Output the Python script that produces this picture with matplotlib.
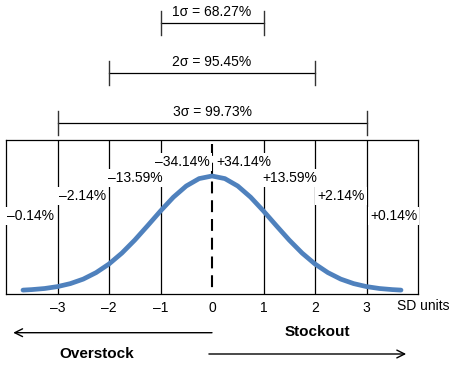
import matplotlib
matplotlib.use("Agg")
import matplotlib.pyplot as plt

plt.rcParams['font.family'] = ['Liberation Sans', 'DejaVu Sans']

# ---- data ----
curve_x = [-3.67, -3.5, -3.25, -3.0, -2.75, -2.5, -2.25, -2.0, -1.75, -1.5, -1.25, -1.0,
           -0.75, -0.5, -0.25, 0.0, 0.25, 0.5, 0.75, 1.0, 1.25, 1.5, 1.75, 2.0,
           2.25, 2.5, 2.75, 3.0, 3.25, 3.5, 3.67]
curve_y = [3.9, 4.4, 5.5, 7.4, 10.4, 14.9, 21.4, 30.0, 40.9, 53.9, 68.3, 83.0,
           96.8, 108.0, 115.4, 118.0, 115.4, 108.0, 96.8, 83.0, 68.3, 53.9, 40.9, 30.0,
           21.4, 14.9, 10.4, 7.4, 5.5, 4.4, 3.9]
sd_ticks = [-3, -2, -1, 0, 1, 2, 3]
sd_tick_labels = ['\u20133', '\u20132', '\u20131', '0', '1', '2', '3']
grid_x = [-3, -2, -1, 1, 2, 3]

band_labels = ['\u20130.14%', '\u20132.14%', '\u201313.59%', '\u201334.14%',
               '+34.14%', '+13.59%', '+2.14%', '+0.14%']
band_label_x = [-3.98, -2.97, -2.02, -0.04, 0.08, 0.97, 2.04, 3.07]
band_label_y = [78, 98, 116.3, 132, 132, 116, 98, 78]
band_label_ha = ['left', 'left', 'left', 'right', 'left', 'left', 'left', 'left']

sigma_labels = ['1\u03c3 = 68.27%', '2\u03c3 = 95.45%', '3\u03c3 = 99.73%']
sigma_halfwidth = [1, 2, 3]
sigma_line_y = [271.3, 221.3, 171.3]
sigma_text_y = [281.5, 232, 182.3]

# ---- figure ----
W, H = 457, 371
fig = plt.figure(figsize=(W / 100, H / 100), dpi=100)
ax = fig.add_axes([6 / W, 77 / H, 412 / W, 154 / H])
ax.set_xlim(-4, 4)
ax.set_ylim(0, 154)
for s in ax.spines.values():
    s.set_linewidth(0.9)
    s.set_color('black')

ax.vlines(grid_x, 0, 154, colors='black', linewidth=0.9, zorder=1)
ax.plot([0, 0], [0, 154], color='black', linewidth=1.5,
        linestyle=(5.7, (5.7, 3.3)), zorder=1)
ax.plot(curve_x, curve_y, color='#4F81BD', linewidth=3.4, solid_capstyle='round', zorder=3)

for lab, x, y, ha in zip(band_labels, band_label_x, band_label_y, band_label_ha):
    ax.text(x, y, lab, ha=ha, va='center', fontsize=10, zorder=4,
            bbox=dict(facecolor='white', edgecolor='none', pad=1.5))

ax.set_xticks(sd_ticks)
ax.set_xticklabels(sd_tick_labels, fontsize=10)
ax.set_yticks([])
ax.tick_params(axis='x', length=0, pad=5)
ax.text(3.59, -12, 'SD units', ha='left', va='center', fontsize=10, clip_on=False)

# sigma brackets
for lab, hw, ly, ty in zip(sigma_labels, sigma_halfwidth, sigma_line_y, sigma_text_y):
    ax.plot([-hw, hw], [ly, ly], color='black', linewidth=0.9, clip_on=False)
    ax.plot([-hw, -hw], [ly - 12, ly + 12], color='#333333', linewidth=1.0, clip_on=False)
    ax.plot([hw, hw], [ly - 12, ly + 12], color='#333333', linewidth=1.0, clip_on=False)
    ax.text(0, ty, lab, ha='center', va='center', fontsize=10, clip_on=False)

# arrows
ax.annotate('', xy=(-3.86, -38.7), xytext=(0, -38.7),
            arrowprops=dict(arrowstyle='->', color='black', linewidth=1.0,
                            mutation_scale=14, shrinkA=0, shrinkB=0),
            annotation_clip=False)
ax.annotate('', xy=(3.77, -60), xytext=(-0.06, -60),
            arrowprops=dict(arrowstyle='->', color='black', linewidth=1.0,
                            mutation_scale=14, shrinkA=0, shrinkB=0),
            annotation_clip=False)
ax.text(2.05, -38, 'Stockout', ha='center', va='center', fontsize=11,
        fontweight='bold', clip_on=False)
ax.text(-2.24, -60, 'Overstock', ha='center', va='center', fontsize=11,
        fontweight='bold', clip_on=False)

fig.savefig('out.png', dpi=100)
